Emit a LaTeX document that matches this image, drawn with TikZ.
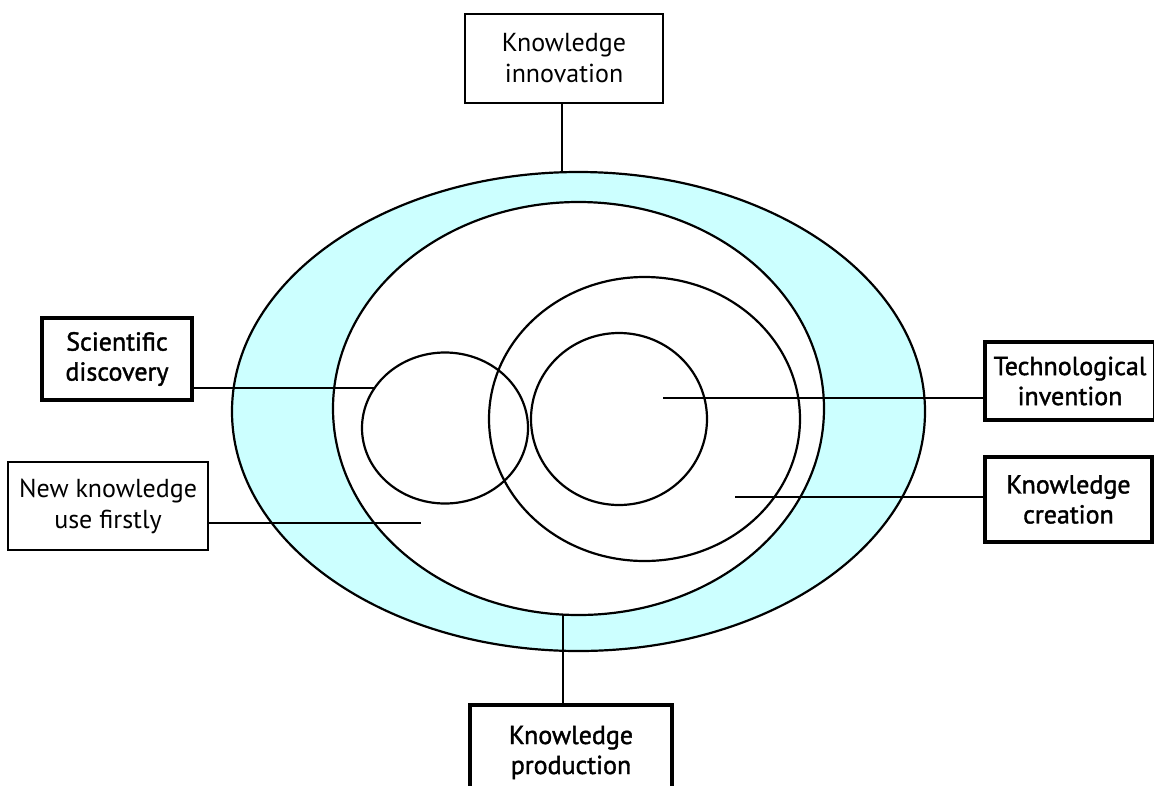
\documentclass[tikz,border=0pt]{standalone}
\usepackage{fontspec}
\setmainfont{PT Sans}
\newfontfamily\semib[FakeBold=1.5]{PT Sans}
\definecolor{ringcyan}{HTML}{CCFFFF}
\begin{document}
\begin{tikzpicture}[x=1pt,y=-1pt,
  ring/.style={draw=black,line width=2.2pt},
  conn/.style={draw=black,line width=2.2pt},
  thinbox/.style={draw=black,line width=2pt,rectangle,align=center,inner sep=0pt,
    font=\fontsize{26}{31}\selectfont},
  thickbox/.style={draw=black,line width=3.2pt,rectangle,align=center,inner sep=0pt,
    font=\semib\fontsize{26}{30}\selectfont}]
\useasboundingbox (0,0) rectangle (1154,785);
\clip (0,0) rectangle (1154,785);
\fill[white] (0,0) rectangle (1154,785);
% rings
\draw[ring,fill=ringcyan] (578.5,411.5) ellipse [x radius=346.5pt, y radius=239.5pt];
\draw[ring,fill=white] (578.5,408.5) ellipse [x radius=245.5pt, y radius=206.5pt];
\draw[ring] (644.5,419) ellipse [x radius=155.5pt, y radius=142pt];
\draw[ring] (619,419) ellipse [x radius=88pt, y radius=86pt];
\draw[ring] (445,428) ellipse [x radius=83pt, y radius=75.5pt];
% boxes
\node[thinbox,minimum width=198pt,minimum height=89pt] (ki) at (564,58.5) {Knowledge\\innovation};
\node[thickbox,minimum width=150pt,minimum height=82pt] (sd) at (117,359) {Scientific\\discovery};
\node[thinbox,minimum width=200pt,minimum height=88pt] (nk) at (108,506) {New knowledge\\use firstly};
\node[thickbox,minimum width=170pt,minimum height=78pt] (ti) at (1070,381) {Technological\\invention};
\node[thickbox,minimum width=167pt,minimum height=85pt] (kc) at (1068.5,499.5) {Knowledge\\creation};
\node[thickbox,minimum width=202pt,minimum height=95pt] (kp) at (571,752.5) {Knowledge\\production};
% connector ends
\coordinate (kiend) at (562,172);
\coordinate (sdend) at (375,388);
\coordinate (nkend) at (421,523);
\coordinate (tiend) at (663,398);
\coordinate (kcend) at (735,497);
\coordinate (kpend) at (563,615);
% connectors
\draw[conn] (kiend |- ki.south) -- (kiend);
\draw[conn] (sd.east |- sdend) -- (sdend);
\draw[conn] (nk.east |- nkend) -- (nkend);
\draw[conn] (ti.west |- tiend) -- (tiend);
\draw[conn] (kc.west |- kcend) -- (kcend);
\draw[conn] (kpend |- kp.north) -- (kpend);
\end{tikzpicture}
\end{document}
